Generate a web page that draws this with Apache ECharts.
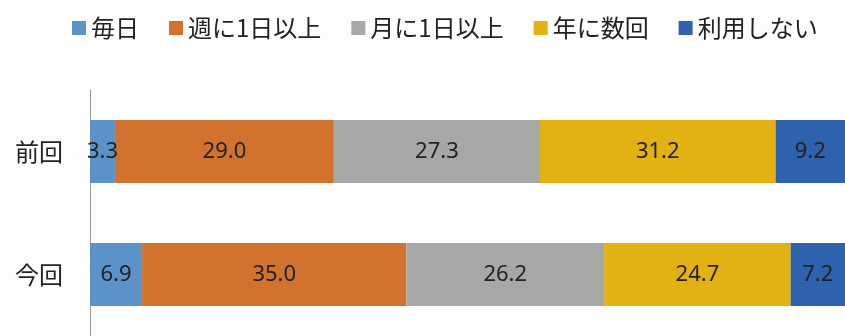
<!DOCTYPE html>
<html>
<head>
<meta charset="utf-8">
<script src="https://cdn.jsdelivr.net/npm/echarts@6/dist/echarts.min.js"></script>
<style>
  html, body { margin: 0; padding: 0; background: #fdfdfb; }
  #chart { width: 845px; height: 336px; }
</style>
</head>
<body>
<div id="chart"></div>
<script>
// Survey rounds (top to bottom)
const categories = ['前回', '今回'];

// Usage frequency groups, in stacking order
const seriesNames = ['毎日', '週に1日以上', '月に1日以上', '年に数回', '利用しない'];

// Percentages per group: [前回, 今回]
const daily = [3.3, 6.9];
const weekly = [29.0, 35.0];
const monthly = [27.3, 26.2];
const yearly = [31.2, 24.7];
const never = [9.2, 7.2];

const values = [daily, weekly, monthly, yearly, never];
const colors = ['#5b93c9', '#d2722f', '#a7a8a5', '#e2b114', '#2e62ad'];

const chart = echarts.init(document.getElementById('chart'));

chart.setOption({
  backgroundColor: '#fdfdfb',
  animation: false,
  legend: {
    top: 11,
    left: 67,
    itemWidth: 14,
    itemHeight: 14,
    itemGap: 30,
    icon: 'rect',
    textStyle: {
      fontFamily: 'Noto Sans CJK JP',
      fontSize: 24,
      color: '#222'
    },
    data: seriesNames
  },
  grid: {
    left: 90,
    right: -5,
    top: 90,
    bottom: -3,
    containLabel: false
  },
  xAxis: {
    type: 'value',
    min: 0,
    max: 100,
    show: false
  },
  yAxis: {
    type: 'category',
    data: categories,
    inverse: true,
    axisLine: { show: true, lineStyle: { color: '#9a9a9a', width: 1 } },
    axisTick: { show: false },
    axisLabel: {
      fontFamily: 'Noto Sans CJK JP',
      fontSize: 24,
      color: '#222',
      margin: 27
    }
  },
  series: seriesNames.map((name, i) => ({
    name: name,
    type: 'bar',
    stack: 'total',
    barWidth: 63,
    itemStyle: { color: colors[i] },
    label: {
      show: true,
      position: 'inside',
      fontFamily: 'Noto Sans',
      fontSize: 22,
      color: '#222',
      formatter: p => p.value.toFixed(1)
    },
    data: values[i]
  }))
});
</script>
</body>
</html>
